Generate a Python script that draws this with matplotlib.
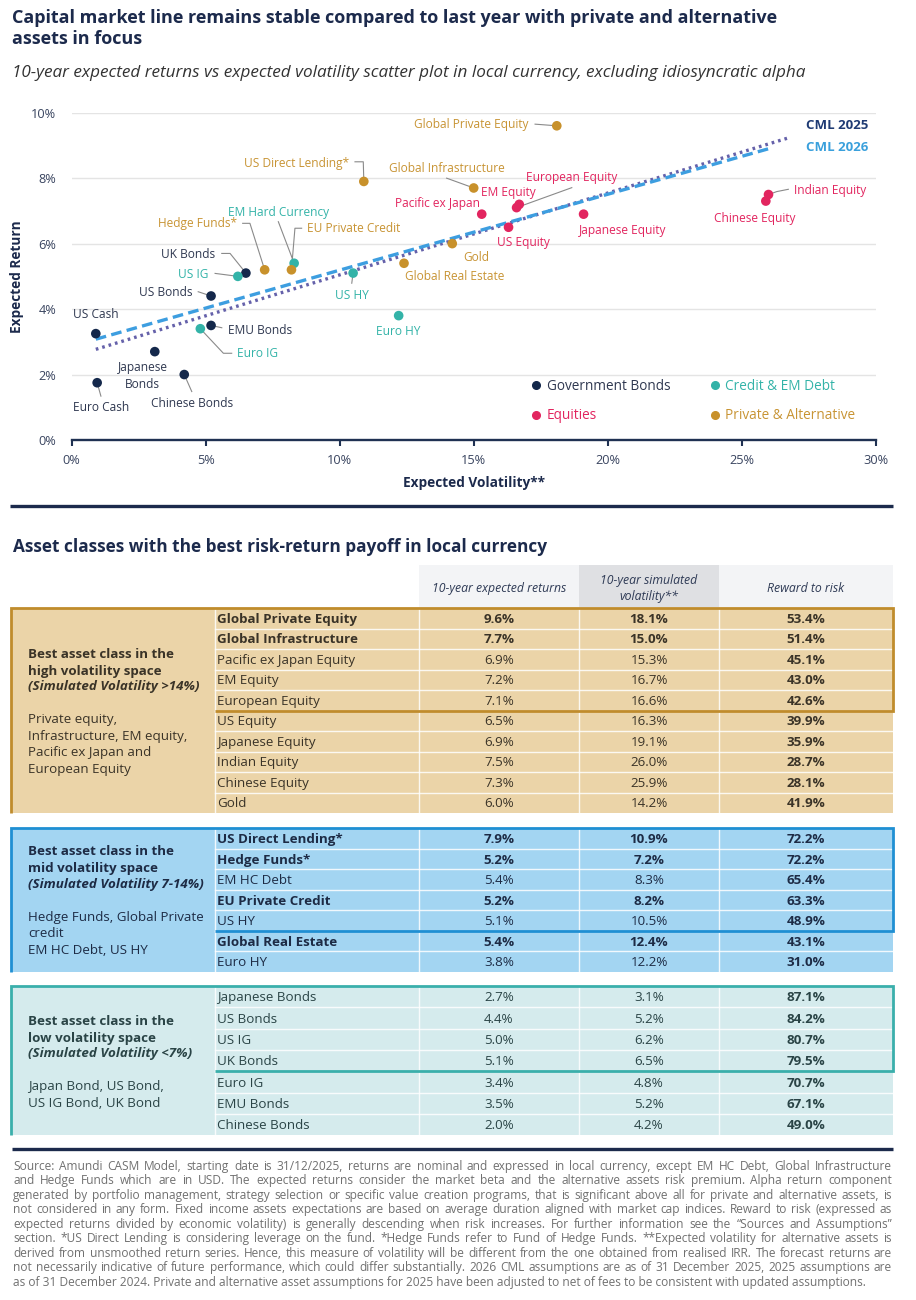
import matplotlib
matplotlib.use('Agg')
import matplotlib.pyplot as plt
from matplotlib.lines import Line2D
from matplotlib.patches import Rectangle
from matplotlib.ticker import FuncFormatter

plt.rcParams['font.family'] = ['Open Sans', 'DejaVu Sans']

# ---------------- data: scatter ----------------
gov_names = ['US Cash', 'Euro Cash', 'Japanese Bonds', 'Chinese Bonds', 'US Bonds', 'EMU Bonds', 'UK Bonds']
gov_vol = [0.9, 0.95, 3.1, 4.2, 5.2, 5.2, 6.5]
gov_ret = [3.25, 1.75, 2.7, 2.0, 4.4, 3.5, 5.1]

credit_names = ['US IG', 'Euro IG', 'EM Hard Currency', 'US HY', 'Euro HY']
credit_vol = [6.2, 4.8, 8.3, 10.5, 12.2]
credit_ret = [5.0, 3.4, 5.4, 5.1, 3.8]

eq_names = ['Pacific ex Japan', 'EM Equity', 'European Equity', 'US Equity', 'Japanese Equity',
            'Indian Equity', 'Chinese Equity']
eq_vol = [15.3, 16.7, 16.6, 16.3, 19.1, 26.0, 25.9]
eq_ret = [6.9, 7.2, 7.1, 6.5, 6.9, 7.5, 7.3]

priv_names = ['Global Private Equity', 'Global Infrastructure', 'Gold', 'US Direct Lending*',
              'Hedge Funds*', 'EU Private Credit', 'Global Real Estate']
priv_vol = [18.1, 15.0, 14.2, 10.9, 7.2, 8.2, 12.4]
priv_ret = [9.6, 7.7, 6.0, 7.9, 5.2, 5.2, 5.4]

cml2025_vol = [0.9, 26.7]
cml2025_ret = [2.77, 9.22]
cml2026_vol = [0.9, 26.05]
cml2026_ret = [3.08, 8.91]

categories = ['Government Bonds', 'Equities', 'Credit & EM Debt', 'Private & Alternative']

x_ticks = [0, 5, 10, 15, 20, 25, 30]
y_ticks = [0, 2, 4, 6, 8, 10]

# ---------------- data: table ----------------
high_names = ['Global Private Equity', 'Global Infrastructure', 'Pacific ex Japan Equity', 'EM Equity',
              'European Equity', 'US Equity', 'Japanese Equity', 'Indian Equity', 'Chinese Equity', 'Gold']
high_ret = [9.6, 7.7, 6.9, 7.2, 7.1, 6.5, 6.9, 7.5, 7.3, 6.0]
high_vol = [18.1, 15.0, 15.3, 16.7, 16.6, 16.3, 19.1, 26.0, 25.9, 14.2]
high_rr = [53.4, 51.4, 45.1, 43.0, 42.6, 39.9, 35.9, 28.7, 28.1, 41.9]
high_bold = [True, True, False, False, False, False, False, False, False, False]

mid_names = ['US Direct Lending*', 'Hedge Funds*', 'EM HC Debt', 'EU Private Credit', 'US HY',
             'Global Real Estate', 'Euro HY']
mid_ret = [7.9, 5.2, 5.4, 5.2, 5.1, 5.4, 3.8]
mid_vol = [10.9, 7.2, 8.3, 8.2, 10.5, 12.4, 12.2]
mid_rr = [72.2, 72.2, 65.4, 63.3, 48.9, 43.1, 31.0]
mid_bold = [True, True, False, True, False, True, False]

low_names = ['Japanese Bonds', 'US Bonds', 'US IG', 'UK Bonds', 'Euro IG', 'EMU Bonds', 'Chinese Bonds']
low_ret = [2.7, 4.4, 5.0, 5.1, 3.4, 3.5, 2.0]
low_vol = [3.1, 5.2, 6.2, 6.5, 4.8, 5.2, 4.2]
low_rr = [87.1, 84.2, 80.7, 79.5, 70.7, 67.1, 49.0]
low_bold = [False] * 7

header_labels = ['10-year expected returns', '10-year simulated\nvolatility**', 'Reward to risk']

footer_lines = [
    "Source: Amundi CASM Model, starting date is 31/12/2025, returns are nominal and expressed in local currency, except EM HC Debt, Global Infrastructure",
    "and Hedge Funds which are in USD. The expected returns consider the market beta and the alternative assets risk premium. Alpha return component",
    "generated by portfolio management, strategy selection or specific value creation programs, that is significant above all for private and alternative assets, is",
    "not considered in any form. Fixed income assets expectations are based on average duration aligned with market cap indices. Reward to risk (expressed as",
    "expected returns divided by economic volatility) is generally descending when risk increases. For further information see the \u201cSources and Assumptions\u201d",
    "section. *US Direct Lending is considering leverage on the fund. *Hedge Funds refer to Fund of Hedge Funds. **Expected volatility for alternative assets is",
    "derived from unsmoothed return series. Hence, this measure of volatility will be different from the one obtained from realised IRR. The forecast returns are",
    "not necessarily indicative of future performance, which could differ substantially. 2026 CML assumptions are as of 31 December 2025, 2025 assumptions are",
    "as of 31 December 2024. Private and alternative asset assumptions for 2025 have been adjusted to net of fees to be consistent with updated assumptions.",
]

# ---------------- styles ----------------
NAVY = '#1c2a4c'
C_GOV = '#14284b'
C_CRED = '#33b3a8'
C_EQ = '#e2255f'
C_PRIV = '#c8912b'
C_GOV_TXT = '#2f3850'
C_PRIV_TXT = '#c89434'
LEADER = '#8a8a8a'

# label placement: text x, text y, ha, leader path (from label to point)
label_pos = {
    'US Cash': (0.06, 3.84, 'left', None),
    'Euro Cash': (0.06, 1.00, 'left', [(1.09, 1.34)]),
    'Japanese Bonds': (2.65, 1.96, 'center', None),
    'Chinese Bonds': (2.95, 1.13, 'left', [(4.48, 1.48)]),
    'US Bonds': (4.51, 4.50, 'right', [(4.72, 4.53)]),
    'EMU Bonds': (5.82, 3.36, 'left', [(5.60, 3.43)]),
    'UK Bonds': (5.37, 5.68, 'right', [(5.60, 5.70), (5.91, 5.70)]),
    'US IG': (5.10, 5.07, 'right', [(5.35, 5.09)]),
    'Euro IG': (6.16, 2.65, 'left', [(5.97, 2.65), (5.66, 2.65)]),
    'EM Hard Currency': (5.82, 6.96, 'left', [(7.71, 6.67)]),
    'US HY': (9.82, 4.43, 'left', [(10.45, 4.79)]),
    'Euro HY': (11.35, 3.31, 'left', None),
    'Pacific ex Japan': (12.06, 7.23, 'left', None),
    'EM Equity': (15.28, 7.56, 'left', None),
    'European Equity': (16.95, 8.03, 'left', [(18.66, 7.71)]),
    'US Equity': (15.88, 6.04, 'left', None),
    'Japanese Equity': (18.93, 6.39, 'left', None),
    'Indian Equity': (26.96, 7.62, 'left', [(26.74, 7.66), (26.31, 7.59)]),
    'Chinese Equity': (23.97, 6.77, 'left', None),
    'Global Private Equity': (17.04, 9.65, 'right', [(17.29, 9.65)]),
    'Global Infrastructure': (11.85, 8.30, 'left', [(13.99, 8.0)]),
    'Gold': (14.61, 5.58, 'left', None),
    'US Direct Lending*': (10.36, 8.45, 'right', [(10.57, 8.50), (10.88, 8.50)]),
    'Hedge Funds*': (6.16, 6.60, 'right', [(6.38, 6.62), (6.65, 6.62)]),
    'EU Private Credit': (8.79, 6.47, 'left', [(8.58, 6.47), (8.33, 6.47)]),
    'Global Real Estate': (12.44, 4.99, 'left', None),
}
display_text = {'Japanese Bonds': 'Japanese\nBonds'}

W, H = 916, 1300
fig = plt.figure(figsize=(W / 100, H / 100), dpi=100)
fig.patch.set_facecolor('white')
bg = fig.add_axes([0, 0, 1, 1])
bg.set_xlim(0, W)
bg.set_ylim(H, 0)
bg.axis('off')
R = fig.canvas.get_renderer()


def fit(t, width):
    w = t.get_window_extent(R).width
    t.set_fontsize(t.get_fontsize() * width / w)
    return t.get_fontsize()


# ---------------- titles ----------------
t1 = bg.text(12, 18.3, 'Capital market line remains stable compared to last year with private and alternative',
             fontsize=13, fontweight='bold', color=NAVY, va='center', ha='left')
fs_t = fit(t1, 764)
bg.text(12, 38.8, 'assets in focus', fontsize=fs_t, fontweight='bold', color=NAVY, va='center', ha='left')
st = bg.text(12, 72.7, '10-year expected returns vs expected volatility scatter plot in local currency, excluding idiosyncratic alpha',
             fontsize=11, style='italic', color='#333333', va='center', ha='left')
fit(st, 791)

# ---------------- scatter ----------------
ax = fig.add_axes([71.7 / W, 1 - 440 / H, 804 / W, 327.3 / H])
ax.patch.set_alpha(0)
ax.set_xlim(0, 30)
ax.set_ylim(0, 10)
for s in ['top', 'right', 'left']:
    ax.spines[s].set_visible(False)
ax.spines['bottom'].set_color('#1f3152')
ax.spines['bottom'].set_linewidth(1.7)
ax.set_xticks(x_ticks)
ax.set_yticks(y_ticks)
fmt = FuncFormatter(lambda v, p: f'{v:.0f}%')
ax.xaxis.set_major_formatter(fmt)
ax.yaxis.set_major_formatter(fmt)
ax.tick_params(axis='x', length=4, width=1.5, color='#1f3152', labelsize=9.2, labelcolor='#3a4560', pad=6)
ax.tick_params(axis='y', length=0, labelsize=9.2, labelcolor='#3a4560', pad=11)
ax.grid(axis='y', color='#e4e4e4', lw=1.0)
ax.set_axisbelow(True)
ax.set_xlabel('Expected Volatility**', fontsize=9.8, fontweight='bold', color=NAVY)
ax.xaxis.set_label_coords(0.5, -0.1323)
ax.xaxis.label.set_va('center')
ax.set_ylabel('Expected Return', fontsize=9.8, fontweight='bold', color=NAVY)
ax.yaxis.set_label_coords(-0.0677, 0.5)
ax.yaxis.label.set_va('center')

ax.plot(cml2025_vol, cml2025_ret, ls=(0, (0.8, 1.2)), color='#6561aa', lw=2.4, zorder=2)
ax.plot(cml2026_vol, cml2026_ret, ls=(0, (3.2, 1.6)), color='#3d9ee0', lw=2.4, zorder=2)
ax.text(29.72, 9.62, 'CML 2025', color='#1f3b74', fontsize=9.5, fontweight='bold', ha='right', va='center')
ax.text(29.72, 8.93, 'CML 2026', color='#3aa0dc', fontsize=9.5, fontweight='bold', ha='right', va='center')

groups = [
    (gov_names, gov_vol, gov_ret, C_GOV, C_GOV_TXT),
    (credit_names, credit_vol, credit_ret, C_CRED, C_CRED),
    (eq_names, eq_vol, eq_ret, C_EQ, C_EQ),
    (priv_names, priv_vol, priv_ret, C_PRIV, C_PRIV_TXT),
]
for names, vols, rets, col, tcol in groups:
    ax.scatter(vols, rets, s=48, color=col, zorder=4, edgecolors='none', clip_on=False)
    for n, v, r in zip(names, vols, rets):
        tx, ty, ha, path = label_pos[n]
        ax.text(tx, ty, display_text.get(n, n), color=tcol, fontsize=8.6, ha=ha, va='center',
                linespacing=1.37, zorder=5)
        if path:
            xs = [p[0] for p in path] + [v]
            ys = [p[1] for p in path] + [r]
            ax.plot(xs, ys, color=LEADER, lw=0.8, zorder=3)

handles = [Line2D([], [], marker='o', ls='', color=c, markersize=5.5)
           for c in [C_GOV, C_EQ, C_CRED, C_PRIV]]
leg = ax.legend(handles, categories, ncol=2, loc='upper left', bbox_to_anchor=(0.572, 0.1875),
                frameon=False, fontsize=9.8, handletextpad=0.4, handlelength=0.7,
                columnspacing=2.95, labelspacing=1.08, borderaxespad=0, borderpad=0)
for t, c in zip(leg.get_texts(), [C_GOV_TXT, C_EQ, C_CRED, C_PRIV_TXT]):
    t.set_color(c)

# ---------------- separators & table title ----------------
bg.plot([10, 893], [506, 506], color=NAVY, lw=2.4, solid_capstyle='butt')
tt = bg.text(13, 547.3, 'Asset classes with the best risk-return payoff in local currency', fontsize=11,
             fontweight='bold', color=NAVY, va='center', ha='left')
fit(tt, 536)

COLS = [11, 215, 419, 579, 719, 893]
CX = [(COLS[i] + COLS[i + 1]) / 2 for i in range(2, 5)]

# header
bg.add_patch(Rectangle((COLS[2], 565), COLS[3] - COLS[2], 42, facecolor='#f3f4f6', edgecolor='none'))
bg.add_patch(Rectangle((COLS[3], 565), COLS[4] - COLS[3], 42, facecolor='#dfe0e3', edgecolor='none'))
bg.add_patch(Rectangle((COLS[4], 565), COLS[5] - COLS[4], 42, facecolor='#f3f4f6', edgecolor='none'))
for cx, lab in zip(CX, header_labels):
    bg.text(cx, 588.5, lab, fontsize=8.8, style='italic', color='#2e3a55', ha='center', va='center',
            linespacing=1.3)

TFS = 9.6


def block(top, rowh, names, ret, vol, rr, bold, bgc, border, nhl, tcol, glines):
    n = len(names)
    bottom = top + rowh * n
    bg.add_patch(Rectangle((COLS[0], top), COLS[-1] - COLS[0], bottom - top, facecolor=bgc, edgecolor='none'))
    for i in range(1, n):
        y = top + rowh * i
        bg.plot([COLS[1], COLS[-1]], [y, y], color='white', lw=1.0, alpha=0.85)
    for x in COLS[1:-1]:
        bg.plot([x, x], [top, bottom], color='white', lw=1.0, alpha=0.85)
    for i in range(n):
        yc = top + rowh * (i + 0.5) + 1.2
        w = 'bold' if bold[i] else 'normal'
        bg.text(COLS[1] + 2, yc, names[i], fontsize=TFS, fontweight=w, color=tcol, va='center', ha='left')
        bg.text(CX[0], yc, f'{ret[i]:.1f}%', fontsize=TFS, fontweight=w, color=tcol, va='center', ha='center')
        bg.text(CX[1], yc, f'{vol[i]:.1f}%', fontsize=TFS, fontweight=w, color=tcol, va='center', ha='center')
        bg.text(CX[2], yc, f'{rr[i]:.1f}%', fontsize=TFS, fontweight='bold', color=tcol, va='center', ha='center')
    yb = top + rowh * nhl
    bg.plot([COLS[0], COLS[0], COLS[-1], COLS[-1], COLS[1]], [bottom, top, top, yb, yb], color=border,
            lw=2.0, solid_joinstyle='miter', solid_capstyle='butt')
    for (txt, y, style) in glines:
        kw = {}
        if style in ('b', 'bi'):
            kw['fontweight'] = 'bold'
        if style == 'bi':
            kw['style'] = 'italic'
        bg.text(28, y, txt, fontsize=TFS, color=tcol, va='center', ha='left', **kw)


block(608, 20.5, high_names, high_ret, high_vol, high_rr, high_bold, '#ebd4a8', '#c08c2c', 5, '#3a3327',
      [('Best asset class in the', 654.3, 'b'), ('high volatility space', 671, 'b'),
       ('(Simulated Volatility >14%)', 686.7, 'bi'), ('Private equity,', 720, 'n'),
       ('Infrastructure, EM equity,', 736.7, 'n'), ('Pacific ex Japan and', 752.7, 'n'),
       ('European Equity', 769.3, 'n')])
block(828, 20.57, mid_names, mid_ret, mid_vol, mid_rr, mid_bold, '#a3d5f2', '#1f8fd3', 5, '#1d2b45',
      [('Best asset class in the', 851.7, 'b'), ('mid volatility space', 868.3, 'b'),
       ('(Simulated Volatility 7-14%)', 884.3, 'bi'), ('Hedge Funds, Global Private', 917.3, 'n'),
       ('credit', 933.3, 'n'), ('EM HC Debt, US HY', 950, 'n')])
block(986, 21.3, low_names, low_ret, low_vol, low_rr, low_bold, '#d5ebed', '#3aafab', 4, '#2a4446',
      [('Best asset class in the', 1021.7, 'b'), ('low volatility space', 1038.3, 'b'),
       ('(Simulated Volatility <7%)', 1054, 'bi'), ('Japan Bond, US Bond,', 1086.7, 'n'),
       ('US IG Bond, UK Bond', 1103.3, 'n')])

# ---------------- footer ----------------
bg.plot([12, 893], [1149, 1149], color=NAVY, lw=2.4, solid_capstyle='butt')
FCOL = '#707070'
probe = bg.text(13, -100, footer_lines[-1], fontsize=8)
ffs = fit(probe, 862)
probe.remove()
X0, X1 = 13, 892
for i, line in enumerate(footer_lines):
    y = 1166 + 14.46 * i + 4.0  # baseline
    if i == len(footer_lines) - 1:
        bg.text(X0, y, line, fontsize=ffs, color=FCOL, va='baseline', ha='left')
        continue
    words = line.split(' ')
    ts = [bg.text(0, y, w, fontsize=ffs, color=FCOL, va='baseline', ha='left') for w in words]
    widths = [t.get_window_extent(R).width for t in ts]
    gap = (X1 - X0 - sum(widths)) / (len(words) - 1)
    x = X0
    for t, w in zip(ts, widths):
        t.set_x(x)
        x += w + gap

fig.savefig('out.png', dpi=100, facecolor='white')
